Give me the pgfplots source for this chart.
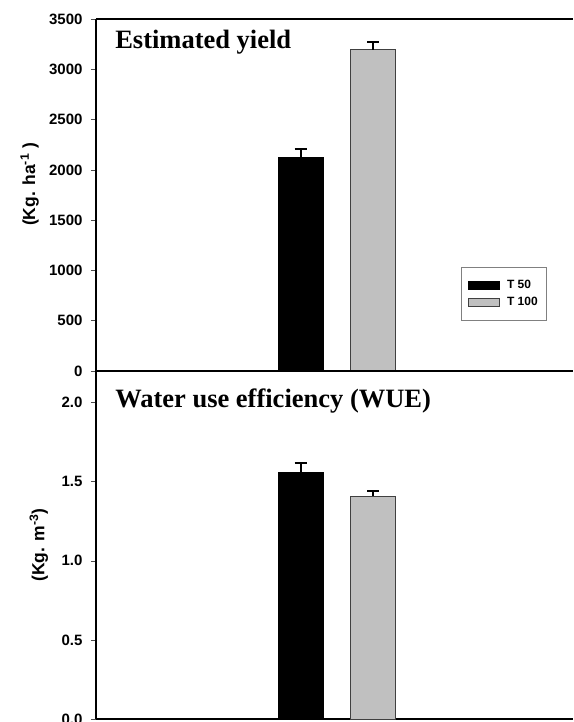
\documentclass[border=0pt]{standalone}
\usepackage{fontspec}
\setmainfont{Liberation Serif}
\newfontfamily\arial{Liberation Sans}
\usepackage{pgfplots}
\pgfplotsset{compat=1.18}
\definecolor{bargray}{RGB}{192,192,192}
\definecolor{edgegray}{RGB}{64,64,64}
\newcommand\tickfont{\arial\bfseries\fontsize{15}{15}\selectfont}
\pgfplotsset{
  panel/.style={
    scale only axis, width=477pt,
    xmin=0, xmax=477, enlargelimits=false,
    axis x line=box, axis y line=left,
    axis line style={-, line width=2.2pt},
    xtick=\empty,
    tick align=outside, major tick length=5pt,
    ytick style={line width=0.6pt, black!70},
    /pgf/number format/assume math mode=true,
    yticklabel={\tickfont\pgfmathprintnumber{\tick}},
    yticklabel style={font=\tickfont, xshift=-5pt},
    ylabel style={font=\arial\bfseries\fontsize{17.5}{17.5}\selectfont},
    clip=false,
  },
  barblack/.style={ybar, bar shift=0pt, bar width=45pt, fill=black, draw=black, line width=0.8pt,
    error bars/y dir=plus, error bars/y explicit,
    error bars/error bar style={line width=2pt, black},
    error bars/error mark options={rotate=90, line width=2pt, mark size=6pt, black}},
  bargray/.style={ybar, bar shift=0pt, bar width=45pt, fill=bargray, draw=edgegray, line width=0.8pt,
    error bars/y dir=plus, error bars/y explicit,
    error bars/error bar style={line width=2pt, black},
    error bars/error mark options={rotate=90, line width=2pt, mark size=6pt, black}},
}
\begin{document}
\begin{tikzpicture}
\useasboundingbox (-96pt,-3pt) rectangle (477pt,719pt);
% top panel
\begin{axis}[panel, at={(0pt,348pt)}, anchor=south west, height=352pt,
  ymin=0, ymax=3500, ytick={0,500,...,3500},
  /pgf/number format/set thousands separator={},
  ylabel={(Kg. ha\textsuperscript{-1} )},
  ylabel style={at={(axis description cs:-0.139,0.53)}, anchor=center},
  legend style={at={(0.765,0.2955)}, anchor=north west, draw=gray, line width=0.6pt,
    font=\arial\bfseries\fontsize{12}{12}\selectfont, inner xsep=7pt, inner ysep=11pt,
    row sep=3pt, /tikz/every odd column/.append style={column sep=5pt}},
  legend cell align=left,
]
\addplot[barblack, /pgfplots/legend image code/.code={\draw[fill=black, draw=black] (0pt,-4pt) rectangle (31pt,4pt);}]
  coordinates {(204.5,2120) +- (0,85)};
\addlegendentry{T 50}
\addplot[bargray, /pgfplots/legend image code/.code={\draw[fill=bargray, draw=edgegray, line width=0.6pt] (0pt,-4pt) rectangle (31pt,4pt);}]
  coordinates {(277,3195) +- (0,80)};
\addlegendentry{T 100\hspace{10pt}}
\node[anchor=base west, font=\bfseries\fontsize{26.5}{26.5}\selectfont, inner sep=0pt]
  at (rel axis cs:0.04,0.915) {Estimated yield};
\end{axis}
% bottom panel
\begin{axis}[panel, at={(0pt,0pt)}, anchor=south west, height=348pt,
  ymin=0, ymax=2.2, ytick={0,0.5,1.0,1.5,2.0},
  /pgf/number format/.cd, fixed, fixed zerofill, precision=1, /pgfplots/.cd,
  ylabel={(Kg. m\textsuperscript{-3})},
  ylabel style={at={(axis description cs:-0.12,0.5)}, anchor=center},
]
\addplot[barblack] coordinates {(204.5,1.56) +- (0,0.06)};
\addplot[bargray] coordinates {(277,1.41) +- (0,0.03)};
\node[anchor=base west, font=\bfseries\fontsize{26.5}{26.5}\selectfont, inner sep=0pt]
  at (rel axis cs:0.04,0.894) {Water use efficiency (WUE)};
\end{axis}
\end{tikzpicture}
\end{document}
